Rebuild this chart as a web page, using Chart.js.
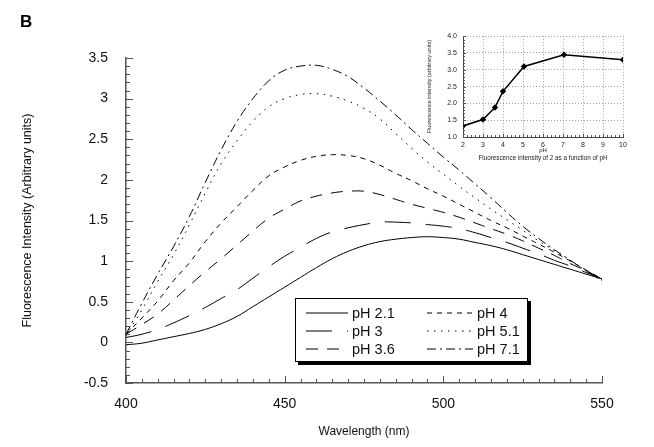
<!DOCTYPE html>
<html>
<head>
<meta charset="utf-8">
<script src="https://cdn.jsdelivr.net/npm/chart.js@4/dist/chart.umd.min.js"></script>
<style>
  html,body{margin:0;padding:0;background:#fff;}
  body{font-family:"Liberation Sans",Arial,Helvetica,sans-serif;}
  #wrap{position:relative;width:654px;height:447px;overflow:hidden;}
  #main{position:absolute;left:0;top:0;}
  #inset{position:absolute;left:420px;top:26px;}
  #panel{position:absolute;left:20px;top:13px;font-weight:bold;font-size:17px;line-height:17px;}
  #caption{position:absolute;left:443px;width:200px;top:154px;text-align:center;font-size:6.3px;line-height:8px;color:#222;}
  #legend{position:absolute;left:295px;top:298px;width:231px;height:62px;border:1px solid #000;box-shadow:3px 3px 0 #000;background:#fff;}
  #legend .item{position:absolute;height:18px;}
  #legend svg{position:absolute;top:7px;}
  #legend span{position:absolute;top:0;line-height:18px;font-size:14.5px;white-space:nowrap;color:#111;}
</style>
</head>
<body>
<div id="wrap">
  <canvas id="main" width="654" height="447"></canvas>
  <div id="panel">B</div>
  <canvas id="inset" width="225" height="130"></canvas>
  <div id="caption">Fluorescence intensity of 2 as a function of pH</div>
  <div id="legend"></div>
</div>
<script>
// Emission spectra of 2 at different pH values
const WAVELENGTHS = [400,405,410,415,420,425,430,435,440,445,450,455,460,465,470,475,480,485,490,495,500,505,510,515,520,525,530,535,540,545,550];

const PH_2_1 = [-0.03,-0.01,0.03,0.07,0.11,0.16,0.23,0.32,0.44,0.56,0.68,0.80,0.92,1.03,1.12,1.19,1.24,1.27,1.29,1.30,1.29,1.27,1.23,1.19,1.14,1.08,1.02,0.96,0.90,0.84,0.78];
const PH_3   = [0.06,0.10,0.16,0.24,0.33,0.43,0.54,0.65,0.79,0.93,1.06,1.17,1.28,1.36,1.41,1.45,1.48,1.48,1.47,1.45,1.43,1.40,1.35,1.29,1.23,1.16,1.09,1.01,0.94,0.86,0.78];
const PH_3_6 = [0.10,0.22,0.35,0.52,0.70,0.87,1.03,1.20,1.37,1.53,1.64,1.74,1.80,1.84,1.86,1.86,1.82,1.76,1.70,1.65,1.60,1.54,1.47,1.40,1.33,1.25,1.16,1.07,0.97,0.88,0.78];
const PH_4   = [0.10,0.30,0.51,0.76,0.98,1.24,1.47,1.67,1.87,2.05,2.16,2.24,2.29,2.31,2.30,2.26,2.18,2.08,1.99,1.89,1.80,1.70,1.60,1.50,1.41,1.31,1.21,1.11,1.00,0.89,0.78];
const PH_5_1 = [0.08,0.40,0.75,1.08,1.45,1.84,2.20,2.48,2.72,2.90,3.00,3.05,3.06,3.03,2.97,2.88,2.75,2.57,2.39,2.22,2.07,1.92,1.78,1.64,1.51,1.38,1.25,1.13,1.01,0.89,0.78];
const PH_7_1 = [0.10,0.48,0.84,1.18,1.55,1.97,2.37,2.72,3.00,3.22,3.35,3.40,3.41,3.36,3.27,3.13,2.97,2.80,2.62,2.45,2.28,2.12,1.95,1.78,1.60,1.43,1.28,1.14,1.01,0.88,0.76];

const SERIES_LABELS = ['pH 2.1','pH 3','pH 3.6','pH 4','pH 5.1','pH 7.1'];
const SERIES_VALUES = [PH_2_1, PH_3, PH_3_6, PH_4, PH_5_1, PH_7_1];

// line styles, one per series
const DASHES = [[], [26,15], [12,9], [5,5], [1.5,5.5], [9,4,2,4]];

// inset: peak intensity vs pH
const INSET_PH = [2, 3, 3.6, 4, 5.05, 7.05, 10];
const INSET_INTENSITY = [1.33, 1.52, 1.88, 2.36, 3.10, 3.45, 3.30];

const FONT = '"Liberation Sans", Arial, Helvetica, sans-serif';
const AXIS = '#555';

// ticks drawn inside the plot (short minor, longer major)
const InnerTicks = (cfg)=>({
  id:'innerTicks',
  afterDraw(chart){
    const {ctx, chartArea:{left,bottom}, scales:{x,y}} = chart;
    ctx.save();
    ctx.strokeStyle = AXIS; ctx.lineWidth = 1;
    ctx.beginPath();
    const nx = Math.round((x.max - x.min)/cfg.xStep);
    for(let i=0;i<=nx;i++){
      const v = x.min + i*cfg.xStep;
      const px = Math.round(x.getPixelForValue(v)) + 0.5;
      const major = Math.abs(v/cfg.xMajor - Math.round(v/cfg.xMajor)) < 1e-6;
      ctx.moveTo(px, bottom); ctx.lineTo(px, bottom - (major ? cfg.majorLen : cfg.minorLen));
    }
    const ny = Math.round((y.max - y.min)/cfg.yStep);
    for(let i=0;i<=ny;i++){
      const v = y.min + i*cfg.yStep;
      const py = Math.round(y.getPixelForValue(v)) + 0.5;
      const major = Math.abs(v/cfg.yMajor - Math.round(v/cfg.yMajor)) < 1e-6;
      ctx.moveTo(left, py); ctx.lineTo(left + (major ? cfg.majorLen : cfg.minorLen), py);
    }
    ctx.stroke();
    ctx.restore();
  }
});

// Main chart
const datasets = SERIES_VALUES.map((vals,i)=>({
  label: SERIES_LABELS[i],
  data: WAVELENGTHS.map((w,k)=>({x:w, y:vals[k]})),
  borderColor:'#000',
  borderWidth:1,
  borderDash: DASHES[i],
  pointRadius:0,
  tension:0.4,
  fill:false
}));

new Chart(document.getElementById('main').getContext('2d'), {
  type:'line',
  data:{datasets},
  options:{
    responsive:false,
    animation:false,
    events:[],
    layout:{padding:{left:10, top:58, right:52, bottom:4}},
    plugins:{legend:{display:false}, tooltip:{enabled:false}},
    scales:{
      x:{
        type:'linear', min:400, max:550,
        ticks:{stepSize:50, padding:13, color:'#111', font:{family:FONT, size:14}},
        grid:{display:true, drawOnChartArea:false, drawTicks:false},
        border:{display:true, color:AXIS, width:1.5},
        title:{display:true, text:'Wavelength (nm)', color:'#111', font:{family:FONT, size:12}, padding:{top:0,bottom:4}},
        afterFit(s){ s.height = 60; }
      },
      y:{
        type:'linear', min:-0.5, max:3.5,
        ticks:{stepSize:0.5, padding:18, color:'#111', font:{family:FONT, size:14}, callback:v=>String(+v.toFixed(1))},
        grid:{display:true, drawOnChartArea:false, drawTicks:false},
        border:{display:true, color:AXIS, width:1.5},
        title:{display:true, text:'Fluorescence Intensity (Arbitrary units)', color:'#111', font:{family:FONT, size:12.5}, padding:{top:10,bottom:0}},
        afterFit(s){ s.width = 116; }
      }
    }
  },
  plugins:[InnerTicks({xStep:5, xMajor:50, yStep:0.1, yMajor:0.5, minorLen:4, majorLen:7})]
});

// Inset chart
new Chart(document.getElementById('inset').getContext('2d'), {
  type:'line',
  data:{datasets:[{
    data: INSET_PH.map((p,i)=>({x:p, y:INSET_INTENSITY[i]})),
    borderColor:'#000', backgroundColor:'#000',
    borderWidth:1.5,
    pointStyle:'rectRot', pointRadius:2.2,
    tension:0
  }]},
  options:{
    responsive:false,
    animation:false,
    events:[],
    layout:{padding:{left:2, top:10, right:22, bottom:0}},
    plugins:{legend:{display:false}, tooltip:{enabled:false}},
    scales:{
      x:{
        type:'linear', min:2, max:10,
        ticks:{stepSize:1, padding:4, color:'#222', font:{family:FONT, size:7}},
        grid:{color:'#888', lineWidth:0.8, drawTicks:false},
        border:{display:true, color:'#444', width:1, dash:[1,2]},
        title:{display:true, text:'pH', color:'#222', font:{family:FONT, size:6}, padding:{top:0,bottom:2.4}},
        afterFit(s){ s.height = 19; }
      },
      y:{
        type:'linear', min:1, max:4,
        ticks:{stepSize:0.5, padding:6, color:'#222', font:{family:FONT, size:7}, callback:v=>v.toFixed(1)},
        grid:{color:'#888', lineWidth:0.8, drawTicks:false},
        border:{display:true, color:'#444', width:1, dash:[1,2]},
        title:{display:true, text:'Fluorescence intensity (arbitrary units)', color:'#222', font:{family:FONT, size:5.5}, padding:{top:3.7,bottom:0}},
        afterFit(s){ s.width = 41; }
      }
    }
  },
  plugins:[InnerTicks({xStep:0.2, xMajor:1, yStep:0.1, yMajor:0.5, minorLen:2, majorLen:3})]
});

// Boxed legend built from the series labels and dash styles
const legend = document.getElementById('legend');
SERIES_LABELS.forEach((lab,i)=>{
  const col = Math.floor(i/3), row = i%3;
  const lineLeft = col ? 131 : 10, lineW = col ? 46 : 42, textLeft = col ? 181 : 56;
  const item = document.createElement('div');
  item.className = 'item';
  item.style.left = '0px';
  item.style.top = (5 + row*18) + 'px';
  item.innerHTML = `<svg style="left:${lineLeft}px" width="${lineW}" height="4"><line x1="0" y1="2" x2="${lineW}" y2="2" stroke="#000" stroke-width="1" stroke-dasharray="${DASHES[i].join(' ')}"/></svg><span style="left:${textLeft}px">${lab}</span>`;
  legend.appendChild(item);
});
</script>
</body>
</html>
